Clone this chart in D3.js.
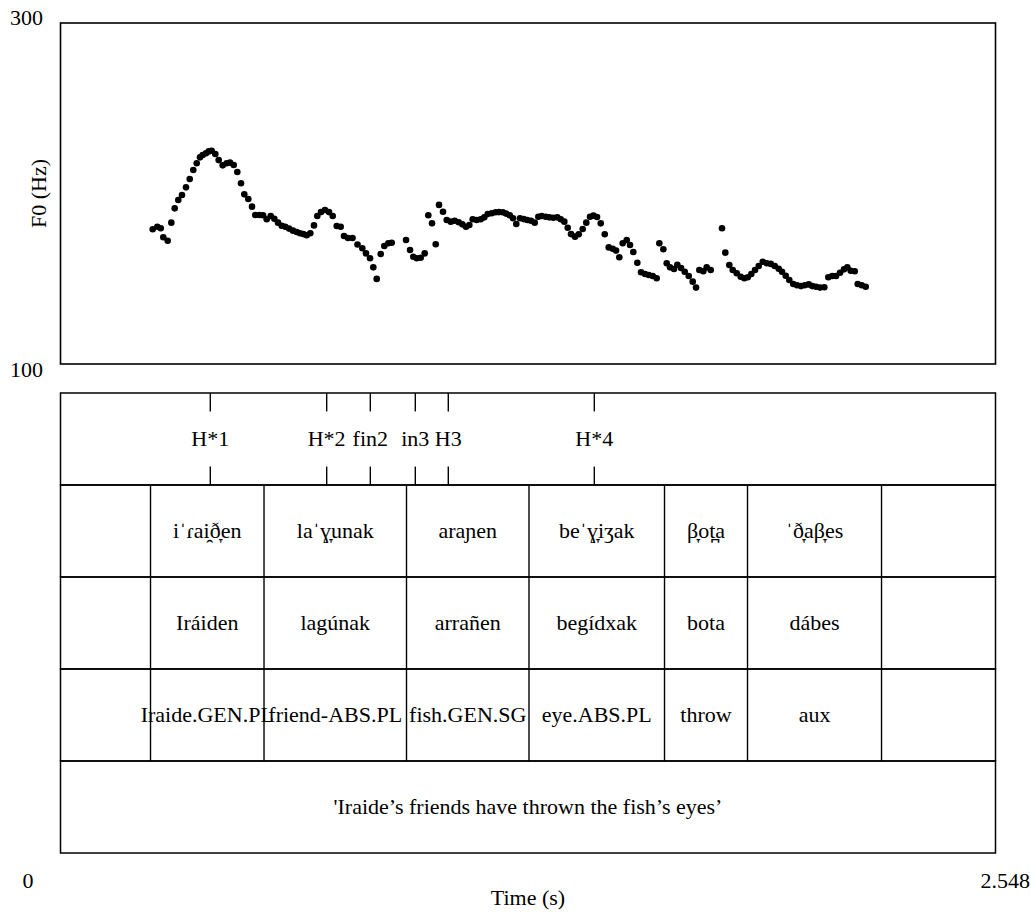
<!DOCTYPE html>
<html>
<head>
<meta charset="utf-8">
<script src="https://cdn.jsdelivr.net/npm/d3@7"></script>
<style>
  html, body { margin: 0; padding: 0; background: #fff; }
  svg { display: block; font-family: "Liberation Serif", "Times New Roman", serif; }
</style>
</head>
<body>
<svg id="chart" width="1031" height="915"></svg>
<script>
// Sound extent and pitch range
const timeRange = [0, 2.548];
const f0Range = [100, 300];

// Pitch track: [time (s), F0 (Hz)]
const pitchTrack = [
  [0.2513,179.0],[0.2638,180.5],[0.2731,179.6],[0.2801,174.3],[0.2921,172.3],[0.3020,182.9],
  [0.3112,191.3],[0.3210,196.2],[0.3311,199.1],[0.3420,203.6],[0.3521,208.5],[0.3619,213.8],
  [0.3712,217.7],[0.3802,221.2],[0.3875,222.6],[0.3965,223.6],[0.4039,224.7],[0.4120,225.1],
  [0.4219,223.2],[0.4311,219.6],[0.4420,216.5],[0.4529,217.7],[0.4619,218.1],[0.4720,216.7],
  [0.4818,212.6],[0.4919,206.0],[0.5009,199.5],[0.5118,196.8],[0.5219,192.3],[0.5309,187.4],
  [0.5418,187.4],[0.5519,187.2],[0.5619,184.9],[0.5728,186.8],[0.5827,185.2],[0.5927,182.9],
  [0.6028,181.1],[0.6126,180.5],[0.6227,179.4],[0.6336,178.2],[0.6437,177.4],[0.6527,176.7],
  [0.6617,176.2],[0.6709,175.5],[0.6807,176.7],[0.6908,181.3],[0.6998,186.8],[0.7099,189.1],
  [0.7208,190.3],[0.7317,189.1],[0.7418,186.8],[0.7527,180.9],[0.7636,180.5],[0.7726,175.1],
  [0.7835,173.9],[0.7958,173.9],[0.8094,170.1],[0.8225,167.9],[0.8325,164.9],[0.8435,162.0],
  [0.8524,156.7],[0.8617,149.9],[0.8726,164.5],[0.8824,169.2],[0.8933,170.8],[0.9026,171.1],
  [0.9416,172.7],[0.9525,166.9],[0.9614,162.9],[0.9707,162.0],[0.9816,162.3],[0.9925,164.9],
  [1.0023,187.2],[1.0124,182.5],[1.0225,170.2],[1.0315,193.3],[1.0424,189.3],[1.0525,184.5],
  [1.0634,183.5],[1.0743,184.0],[1.0852,183.1],[1.0950,181.9],[1.1051,180.5],[1.1141,181.5],
  [1.1233,184.9],[1.1342,184.5],[1.1451,184.9],[1.1549,186.0],[1.1642,188.0],[1.1751,188.4],
  [1.1860,189.0],[1.1950,189.1],[1.2051,189.0],[1.2141,188.2],[1.2242,187.2],[1.2332,185.5],
  [1.2421,182.1],[1.2522,185.5],[1.2623,185.0],[1.2721,184.5],[1.2822,184.0],[1.2923,182.9],
  [1.3021,186.4],[1.3114,186.8],[1.3223,186.4],[1.3321,186.0],[1.3430,185.8],[1.3539,186.0],
  [1.3632,184.9],[1.3730,183.5],[1.3822,179.9],[1.3912,176.2],[1.4021,174.7],[1.4122,176.1],
  [1.4231,179.2],[1.4329,182.9],[1.4430,186.4],[1.4525,187.0],[1.4621,186.2],[1.4722,182.5],
  [1.4831,176.1],[1.4940,168.4],[1.5049,167.6],[1.5139,166.5],[1.5228,162.6],[1.5321,170.8],
  [1.5430,172.7],[1.5520,169.8],[1.5610,165.7],[1.5719,159.4],[1.5820,153.8],[1.5929,152.8],
  [1.6030,152.2],[1.6139,151.6],[1.6247,150.3],[1.6319,170.8],[1.6428,167.3],[1.6520,159.1],
  [1.6610,156.7],[1.6719,155.7],[1.6809,158.2],[1.6910,156.3],[1.7011,154.1],[1.7120,151.6],
  [1.7229,148.3],[1.7319,144.8],[1.7409,155.1],[1.7517,154.4],[1.7610,156.7],[1.7719,155.1],
  [1.8027,179.6],[1.8117,165.3],[1.8226,158.1],[1.8319,155.1],[1.8428,153.2],[1.8537,151.2],
  [1.8635,150.3],[1.8729,150.9],[1.8826,152.8],[1.8927,155.1],[1.9028,157.5],[1.9137,160.0],
  [1.9246,159.1],[1.9355,158.7],[1.9464,157.5],[1.9572,155.9],[1.9662,154.1],[1.9763,151.8],
  [1.9861,149.3],[1.9970,146.9],[2.0071,146.2],[2.0180,145.7],[2.0281,146.2],[2.0390,146.7],
  [2.0488,145.7],[2.0589,145.3],[2.0698,144.8],[2.0815,145.0],[2.0924,150.9],[2.1033,151.6],
  [2.1134,151.6],[2.1243,153.5],[2.1352,155.5],[2.1442,156.7],[2.1535,154.7],[2.1644,154.4],
  [2.1725,146.9],[2.1834,146.2],[2.1943,145.3]
];

// Tone tier (point tier)
const toneTimes = [0.4082, 0.7254, 0.8443, 0.9669, 1.0568, 1.4547];
const toneLabels = ["H*1", "H*2", "fin2", "in3", "H3", "H*4"];

// Word boundaries shared by the interval tiers
const wordBounds = [0.2453, 0.5546, 0.9429, 1.2767, 1.6460, 1.8722, 2.2374];
const ipaLabels = ["", "iˈɾai̯ð̞en", "laˈɣ̞unak", "araɲen", "beˈɣ̞iʒak", "β̞ot̪a", "ˈð̞aβ̞es", ""];
const orthLabels = ["", "Iráiden", "lagúnak", "arrañen", "begídxak", "bota", "dábes", ""];
const glossLabels = ["", "Iraide.GEN.PL", "friend-ABS.PL", "fish.GEN.SG", "eye.ABS.PL", "throw", "aux", ""];
const translationLabels = ["'Iraide’s friends have thrown the fish’s eyes’"];

// Axis texts
const yAxisTitle = "F0 (Hz)";
const xAxisTitle = "Time (s)";

// ---- layout ----
const plot = { left: 60.5, right: 995.5, top: 23, bottom: 364 };
const tierTop = 393, tierH = 92;
const fontSize = 22;
const ink = "#000";

const svg = d3.select("#chart");

const x = d3.scaleLinear().domain(timeRange).range([plot.left, plot.right]);
const y = d3.scaleLinear().domain(f0Range).range([plot.bottom, plot.top]);

// Pitch frame
svg.append("rect")
  .attr("x", plot.left).attr("y", plot.top)
  .attr("width", plot.right - plot.left).attr("height", plot.bottom - plot.top)
  .attr("fill", "none").attr("stroke", ink).attr("stroke-width", 1.6);

// Pitch points
svg.append("g").selectAll("circle")
  .data(pitchTrack)
  .join("circle")
  .attr("cx", d => x(d[0]))
  .attr("cy", d => y(d[1]))
  .attr("r", 3.3)
  .attr("fill", ink);

// F0 range marks
svg.append("text")
  .attr("x", 43).attr("y", y(f0Range[1]) + 1.5)
  .attr("text-anchor", "end").attr("font-size", fontSize).attr("fill", ink)
  .text(d3.format("d")(f0Range[1]));
svg.append("text")
  .attr("x", 43).attr("y", y(f0Range[0]) + 13)
  .attr("text-anchor", "end").attr("font-size", fontSize).attr("fill", ink)
  .text(d3.format("d")(f0Range[0]));

// F0 title
const yMid = (y(f0Range[0]) + y(f0Range[1])) / 2;
svg.append("text")
  .attr("transform", `translate(46,${yMid}) rotate(-90)`)
  .attr("text-anchor", "middle").attr("font-size", fontSize).attr("fill", ink)
  .text(yAxisTitle);

// ---- tiers ----
function tierBox(i) {
  const top = tierTop + i * tierH;
  svg.append("rect")
    .attr("x", x(timeRange[0])).attr("y", top)
    .attr("width", x(timeRange[1]) - x(timeRange[0])).attr("height", tierH)
    .attr("fill", "none").attr("stroke", ink).attr("stroke-width", 1.5);
  return top;
}

function intervalTier(i, bounds, labels) {
  const top = tierBox(i);
  const g = svg.append("g");
  g.selectAll("line")
    .data(bounds)
    .join("line")
    .attr("x1", d => x(d)).attr("x2", d => x(d))
    .attr("y1", top).attr("y2", top + tierH)
    .attr("stroke", ink).attr("stroke-width", 1.4);
  const edges = [timeRange[0], ...bounds, timeRange[1]];
  const intervals = labels.map((lab, k) => ({ lab, t0: edges[k], t1: edges[k + 1] }));
  g.selectAll("text")
    .data(intervals.filter(d => d.lab !== ""))
    .join("text")
    .attr("x", d => x((d.t0 + d.t1) / 2))
    .attr("y", top + tierH / 2 + fontSize * 0.33)
    .attr("text-anchor", "middle")
    .attr("font-size", fontSize)
    .attr("fill", ink)
    .text(d => d.lab);
}

function pointTier(i, times, labels) {
  const top = tierBox(i);
  const tick = tierH * 0.2;
  const g = svg.append("g");
  const pts = times.map((t, k) => ({ t, lab: labels[k] }));
  g.selectAll("line.top")
    .data(pts).join("line").attr("class", "top")
    .attr("x1", d => x(d.t)).attr("x2", d => x(d.t))
    .attr("y1", top).attr("y2", top + tick)
    .attr("stroke", ink).attr("stroke-width", 1.4);
  g.selectAll("line.bot")
    .data(pts).join("line").attr("class", "bot")
    .attr("x1", d => x(d.t)).attr("x2", d => x(d.t))
    .attr("y1", top + tierH - tick).attr("y2", top + tierH)
    .attr("stroke", ink).attr("stroke-width", 1.4);
  g.selectAll("text")
    .data(pts).join("text")
    .attr("x", d => x(d.t))
    .attr("y", top + tierH / 2 + fontSize * 0.33)
    .attr("text-anchor", "middle")
    .attr("font-size", fontSize)
    .attr("fill", ink)
    .text(d => d.lab);
}

pointTier(0, toneTimes, toneLabels);
intervalTier(1, wordBounds, ipaLabels);
intervalTier(2, wordBounds, orthLabels);
intervalTier(3, wordBounds, glossLabels);
intervalTier(4, [], translationLabels);

// Time range marks and title
const tiersBottom = tierTop + 5 * tierH;
svg.append("text")
  .attr("x", 28).attr("y", 888)
  .attr("text-anchor", "middle").attr("font-size", fontSize).attr("fill", ink)
  .text(d3.format("d")(timeRange[0]));
svg.append("text")
  .attr("x", 1030).attr("y", 888)
  .attr("text-anchor", "end").attr("font-size", fontSize).attr("fill", ink)
  .text(timeRange[1]);
svg.append("text")
  .attr("x", (x(timeRange[0]) + x(timeRange[1])) / 2).attr("y", 905)
  .attr("text-anchor", "middle").attr("font-size", fontSize).attr("fill", ink)
  .text(xAxisTitle);
</script>
</body>
</html>
